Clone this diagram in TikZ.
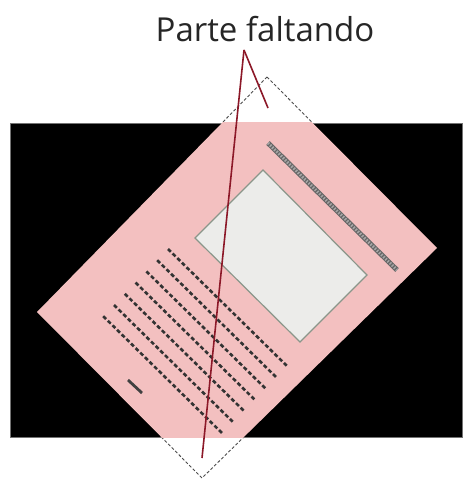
\documentclass[tikz,border=0pt]{standalone}
\usepackage{fontspec}
\setmainfont{Open Sans}
\usetikzlibrary{positioning}
\definecolor{docpink}{RGB}{243,192,192}
\definecolor{photogray}{RGB}{236,236,234}
\definecolor{photoedge}{RGB}{138,150,138}
\definecolor{leadred}{RGB}{140,24,40}
\tikzset{
  frame/.style={fill=black,draw=black!55,line width=0.8pt},
  docedge/.style={draw=black!70,dashed,dash pattern=on 3pt off 2pt,line width=0.9pt},
  docfill/.style={fill=docpink},
  photo/.style={fill=photogray,draw=photoedge,line width=1.2pt},
  txtline/.style={draw=black!80,line width=2.6pt,dash pattern=on 4pt off 2.5pt},
  bar/.style={draw=black!60,line width=5pt},
  lead/.style={draw=leadred,line width=1.6pt},
  hd/.style={font=\fontsize{33}{38}\selectfont,text=black!85}
}
\begin{document}
\begin{tikzpicture}[x=1pt,y=-1pt]
\useasboundingbox (0,0) rectangle (467,481);

% document outline outside the scanner window
\draw[docedge] (267,77) -- (437,248) -- (202,478) -- (37,312) -- cycle;

% scanner window
\path[frame] (10,123) rectangle (462,437);
\begin{scope}
  \clip (10,123) rectangle (462,437);
  \path[docfill] (267,77) -- (437,248) -- (202,478) -- (37,312) -- cycle;
\end{scope}

% title bar
\draw[bar] (268,143) -- (397,270);
\draw[draw=black!35,line width=3pt,dash pattern=on 1.5pt off 1.5pt] (268,143) -- (397,270);

% picture block
\draw[photo] (263,170) -- (367,275) -- (300,342) -- (195,238) -- cycle;

% text lines
\foreach \i in {0,...,6}
  \draw[txtline] (168-10.8*\i,249+11.2*\i) -- ++(119,117);
\draw[draw=black!75,line width=2.8pt] (128,380) -- (142,393);

% label and leaders
\node[hd,anchor=base] (missing) at (265,42) {Parte faltando};
\coordinate (apex) at (244,50);
\coordinate (tip1) at (268,108);
\coordinate (tip2) at (202,458);
\draw[lead] (apex) -- (tip1);
\draw[lead] (apex) -- (tip2);
\end{tikzpicture}
\end{document}
